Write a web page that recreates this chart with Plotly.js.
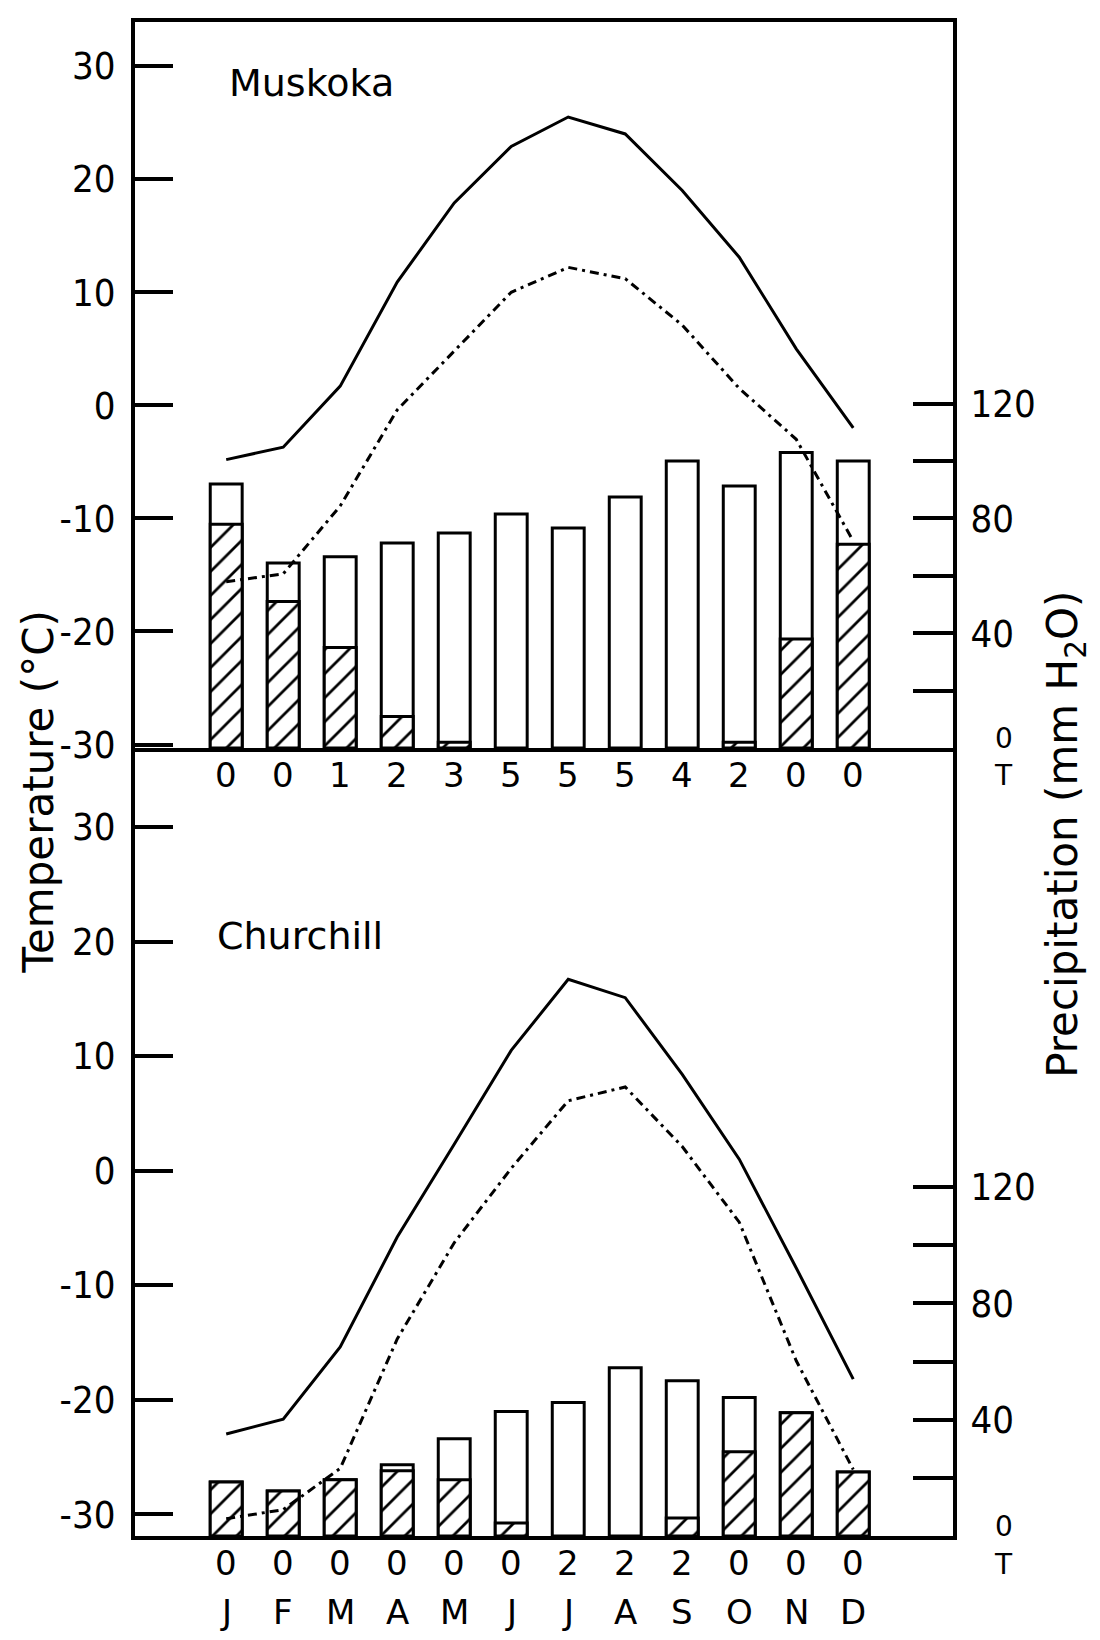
<!DOCTYPE html>
<html>
<head>
<meta charset="utf-8">
<script src="https://cdn.plot.ly/plotly-3.0.1.min.js"></script>
<style>
  html, body { margin: 0; padding: 0; background: #ffffff; }
  #chart { width: 1100px; height: 1640px; }
</style>
</head>
<body>
<div id="chart"></div>
<script>
// ---- data ----
const months = ['J', 'F', 'M', 'A', 'M', 'J', 'J', 'A', 'S', 'O', 'N', 'D'];

const muskokaTmax   = [-4.8, -3.7, 1.7, 10.9, 17.9, 22.9, 25.5, 24.0, 19.0, 13.1, 5.0, -2.0];
const muskokaTmin   = [-15.6, -14.9, -8.9, -0.4, 4.8, 10.0, 12.2, 11.2, 7.1, 1.5, -3.0, -12.0];
const muskokaPrecip = [92, 64.5, 66.6, 71.4, 74.9, 81.5, 76.7, 87.5, 100, 91.3, 103, 100];
const muskokaSnow   = [78, 51, 35, 11, 2, 0, 0, 0, 0, 2, 38, 71];
const muskokaCounts = ['0', '0', '1', '2', '3', '5', '5', '5', '4', '2', '0', '0'];

const churchillTmax   = [-23.0, -21.7, -15.4, -5.8, 2.3, 10.5, 16.7, 15.1, 8.4, 1.0, -8.5, -18.2];
const churchillTmin   = [-30.4, -29.6, -26.0, -14.7, -6.3, 0.2, 6.1, 7.3, 2.1, -4.5, -16.6, -26.1];
const churchillPrecip = [18.6, 15.5, 19.3, 24.5, 33.4, 42.8, 45.9, 57.9, 53.4, 47.6, 42.4, 22.0];
const churchillSnow   = [18.6, 15.5, 19.3, 22.4, 19.3, 4.5, 0, 0, 6.2, 29, 42.4, 22.0];
const churchillCounts = ['0', '0', '0', '0', '0', '0', '2', '2', '2', '0', '0', '0'];

const tempTickVals = [-30, -20, -10, 0, 10, 20, 30];
const tempTickText = ['-30', '-20', '-10', '0', '10', '20', '30'];
const precipLabelVals = [40, 80, 120];
const precipLabelText = ['40', '80', '120'];
const precipMinorVals = [20, 60, 100];

// ---- styling ----
const monthX = months.map((m, i) => i + 1);
const INK = '#000000';
const tickFont = { family: "'Liberation Sans Narrow', 'DejaVu Sans Condensed', 'Liberation Sans', sans-serif", size: 38, color: INK };
const textFont = { family: "'DejaVu Sans', sans-serif", size: 34, color: INK };
const nameFont = { family: "'DejaVu Sans', sans-serif", size: 38, color: INK };
const barW = 0.56;

function totalBar(y, xa, ya) {
  return { type: 'bar', x: monthX, y: y, xaxis: xa, yaxis: ya, width: barW,
    marker: { color: '#ffffff', line: { color: INK, width: 3 } },
    hoverinfo: 'skip', showlegend: false };
}
function snowBar(y, xa, ya) {
  return { type: 'bar', x: monthX, y: y.map(v => (v > 0 ? v : null)), xaxis: xa, yaxis: ya, width: barW,
    marker: { color: '#ffffff', line: { color: INK, width: 3 },
      pattern: { shape: '/', fgcolor: INK, bgcolor: '#ffffff', size: 17, solidity: 0.16 } },
    hoverinfo: 'skip', showlegend: false };
}
function tLine(y, xa, ya, dash) {
  return { type: 'scatter', mode: 'lines', x: monthX, y: y, xaxis: xa, yaxis: ya,
    line: { color: INK, width: 3, dash: dash },
    hoverinfo: 'skip', showlegend: false };
}

const traces = [
  // top panel (Muskoka)
  totalBar(muskokaPrecip, 'x2', 'y3'),
  snowBar(muskokaSnow, 'x2', 'y3'),
  tLine(muskokaTmax, 'x2', 'y4', 'solid'),
  tLine(muskokaTmin, 'x2', 'y4', '9px,5px,3px,5px'),
  // bottom panel (Churchill)
  totalBar(churchillPrecip, 'x', 'y'),
  snowBar(churchillSnow, 'x', 'y'),
  tLine(churchillTmax, 'x', 'y2', 'solid'),
  tLine(churchillTmin, 'x', 'y2', '9px,5px,3px,5px')
];

const split = 0.5205;
const xRange = [-0.6, 13.75];

function xAx(anchor, mirror) {
  return { domain: [0, 1], range: xRange, anchor: anchor, showline: true, linewidth: 4,
    linecolor: INK, mirror: mirror, ticks: '', showticklabels: false,
    showgrid: false, zeroline: false, fixedrange: true };
}
function precipAx(domain, range, anchor) {
  return { domain: domain, range: range, anchor: anchor, side: 'right',
    showline: true, linewidth: 4, linecolor: INK,
    tickmode: 'array', tickvals: precipLabelVals, ticktext: precipLabelText,
    ticks: 'inside', ticklen: 40, tickwidth: 4, tickcolor: INK,
    tickfont: tickFont, ticklabelstandoff: 6,
    minor: { tickmode: 'array', tickvals: precipMinorVals, ticks: 'inside', ticklen: 40, tickwidth: 4, tickcolor: INK, showgrid: false },
    showgrid: false, zeroline: false, fixedrange: true };
}
function tempAx(over, range, anchor) {
  return { overlaying: over, range: range, anchor: anchor, side: 'left',
    showline: true, linewidth: 4, linecolor: INK,
    ticks: 'inside', ticklen: 38, tickwidth: 4, tickcolor: INK,
    tickmode: 'array', tickvals: tempTickVals, ticktext: tempTickText, tickfont: tickFont,
    ticklabelstandoff: 8,
    showgrid: false, zeroline: false, fixedrange: true };
}

const annotations = [];
// station names
annotations.push({ xref: 'paper', yref: 'paper', x: 0.112, y: 0.960, xanchor: 'left', yanchor: 'middle',
  text: 'Muskoka', showarrow: false, font: nameFont });
annotations.push({ xref: 'paper', yref: 'paper', x: 0.098, y: 0.396, xanchor: 'left', yanchor: 'middle',
  text: 'Churchill', showarrow: false, font: nameFont });
// counts under bars and month letters
monthX.forEach((xv, i) => {
  annotations.push({ xref: 'x', yref: 'paper', x: xv, y: split - 0.0178, xanchor: 'center', yanchor: 'middle',
    text: muskokaCounts[i], showarrow: false, font: textFont });
  annotations.push({ xref: 'x', yref: 'paper', x: xv, y: -0.0178, xanchor: 'center', yanchor: 'middle',
    text: churchillCounts[i], showarrow: false, font: textFont });
  annotations.push({ xref: 'x', yref: 'paper', x: xv, y: -0.050, xanchor: 'center', yanchor: 'middle',
    text: months[i], showarrow: false, font: textFont });
});
// "0 / T" on the precipitation axes
const smallFont = { family: "'DejaVu Sans', sans-serif", size: 28, color: INK };
[split, 0].forEach(yb => {
  annotations.push({ xref: 'paper', yref: 'paper', x: 1.062, y: yb + 0.006, xanchor: 'center', yanchor: 'middle',
    text: '0', showarrow: false, font: smallFont });
  annotations.push({ xref: 'paper', yref: 'paper', x: 1.062, y: yb - 0.0185, xanchor: 'center', yanchor: 'middle',
    text: 'T', showarrow: false, font: smallFont });
});
// axis titles
annotations.push({ xref: 'paper', yref: 'paper', x: -0.118, y: 0.492, xanchor: 'center', yanchor: 'middle',
  text: 'Temperature (°C)', textangle: -90, showarrow: false,
  font: { family: "'DejaVu Sans', sans-serif", size: 42, color: INK } });
annotations.push({ xref: 'paper', yref: 'paper', x: 1.138, y: 0.4637, xanchor: 'center', yanchor: 'middle',
  text: 'Precipitation (mm H<sub>2</sub>O)', textangle: -90, showarrow: false,
  font: { family: "'DejaVu Sans', sans-serif", size: 42, color: INK } });

const layout = {
  width: 1100, height: 1640,
  margin: { l: 135, r: 147, t: 22, b: 104 },
  paper_bgcolor: '#ffffff', plot_bgcolor: 'rgba(0,0,0,0)',
  barmode: 'overlay', bargap: 0,
  showlegend: false,
  xaxis: xAx('y', false),
  xaxis2: xAx('y3', true),
  yaxis: precipAx([0, split], [0, 271], 'x'),
  yaxis2: tempAx('y', [-31.9, 36.9], 'x'),
  yaxis3: precipAx([split, 1], [0, 253], 'x2'),
  yaxis4: tempAx('y3', [-30.3, 33.9], 'x2'),
  annotations: annotations
};

Plotly.newPlot('chart', traces, layout, { staticPlot: true, displayModeBar: false });
</script>
</body>
</html>
